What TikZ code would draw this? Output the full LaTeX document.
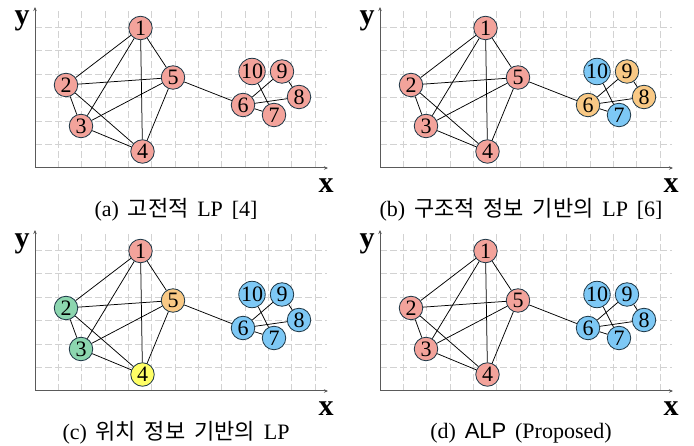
\documentclass[tikz,border=0pt]{standalone}
\usepackage{fontspec}
\setmainfont{Liberation Serif}
\newfontfamily\krfont{Noto Sans CJK KR}
\newfontfamily\arialfont{Liberation Sans}
\usetikzlibrary{arrows.meta}
\definecolor{nred}{RGB}{243,163,155}
\definecolor{nblue}{RGB}{125,200,245}
\definecolor{norange}{RGB}{249,201,133}
\definecolor{ngreen}{RGB}{140,214,175}
\definecolor{nyellow}{RGB}{255,255,102}
\definecolor{nborder}{RGB}{30,55,70}
\definecolor{gridc}{RGB}{210,210,210}
\definecolor{axisc}{RGB}{90,90,90}
\newcommand\capfont{\fontsize{22}{26}\selectfont\spaceskip 0.4em\relax}
\tikzset{
  nd/.style={circle, draw=nborder, line width=0.8pt, fill=nred, minimum size=23.5pt, inner sep=0pt, font=\fontsize{22}{22}\selectfont},
  edge/.style={line width=0.75pt, black},
  gridline/.style={gridc, line width=0.9pt, dash pattern=on 7pt off 3pt},
  axisline/.style={axisc, line width=1pt, -{Stealth[length=4pt,width=3.5pt]}},
  axlabel/.style={font=\fontsize{30}{30}\selectfont\bfseries, inner sep=0pt},
  caption/.style={font=\capfont, inner sep=0pt},
  n1/.style={}, n2/.style={}, n3/.style={}, n4/.style={}, n5/.style={},
  n6/.style={}, n7/.style={}, n8/.style={}, n9/.style={}, n10/.style={}
}
\newcommand\drawpanel[4]{%
  \begin{scope}[shift={#2}, #3]
    \foreach \k in {1,...,12} \draw[gridline] (23.35*\k,0) -- (23.35*\k,-158);
    \foreach \k in {1,...,6} \draw[gridline] (0,-23.5*\k) -- (292,-23.5*\k);
    \coordinate (#1o) at (0,0);
    \coordinate (#1ytop) at (0,-161);
    \coordinate (#1xend) at (293,0);
    \draw[axisline] (#1o) -- (#1ytop);
    \draw[axisline] (#1o) -- (#1xend);
    \node[axlabel] (#1ylab) at (-13,-147) {y};
    \node[axlabel] (#1xlab) at (291,17.5) {x};
    \foreach \i/\px/\py in {1/105.5/-140, 2/31/-83, 3/46/-42, 4/107.5/-16.5, 5/138/-90.5,
                            6/208/-63, 7/239/-53, 8/264/-71, 9/247/-96.5, 10/217/-96.5}
      \node[nd, n\i] (#1\i) at (\px,\py) {\i};
    \foreach \a/\b in {1/2,1/3,1/4,1/5,2/5,2/3,2/4,3/5,3/4,4/5,5/6,6/9,6/8,6/7,10/7,9/8}
      \draw[edge] (#1\a) -- (#1\b);
    \node[caption] (#1cap) at (141,42) {#4};
  \end{scope}
}
\begin{document}
\begin{tikzpicture}[x=1pt, y=-1pt]
  \useasboundingbox (0,0) rectangle (694,446);
  \drawpanel{a}{(35,168)}{}{(a) {\krfont 고전적} LP [4]}
  \drawpanel{b}{(380,168)}{n6/.style={fill=norange}, n7/.style={fill=nblue}, n8/.style={fill=norange}, n9/.style={fill=norange}, n10/.style={fill=nblue}}{(b) {\krfont 구조적 정보 기반의} LP [6]}
  \drawpanel{c}{(35,391)}{n2/.style={fill=ngreen}, n3/.style={fill=ngreen}, n4/.style={fill=nyellow}, n5/.style={fill=norange}, n6/.style={fill=nblue}, n7/.style={fill=nblue}, n8/.style={fill=nblue}, n9/.style={fill=nblue}, n10/.style={fill=nblue}}{(c) {\krfont 위치 정보 기반의} LP}
  \drawpanel{d}{(380,391)}{n6/.style={fill=nblue}, n7/.style={fill=nblue}, n8/.style={fill=nblue}, n9/.style={fill=nblue}, n10/.style={fill=nblue}}{(d) {\arialfont ALP} (Proposed)}
\end{tikzpicture}
\end{document}
